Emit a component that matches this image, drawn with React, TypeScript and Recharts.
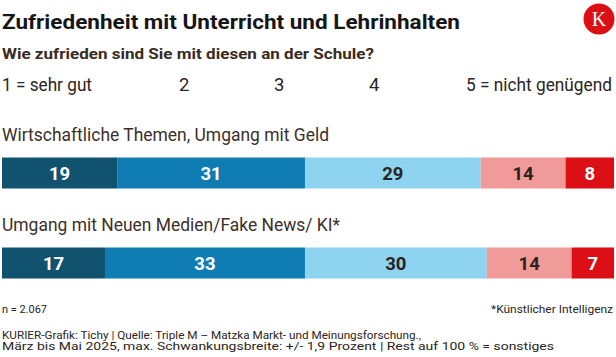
import React from 'react';
import { BarChart, Bar, XAxis, YAxis, LabelList } from 'recharts';

const categories = ['Wirtschaftliche Themen, Umgang mit Geld', 'Umgang mit Neuen Medien/Fake News/ KI*'];
const sehrGut = [19, 17];
const zwei = [31, 33];
const drei = [29, 30];
const vier = [14, 14];
const nichtGenuegend = [8, 7];
const legendLabels = ['1 = sehr gut', '2', '3', '4', '5 = nicht genügend'];

const seriesKeys = ['s1', 's2', 's3', 's4', 's5'];
const colors = ['#11536f', '#0f7db4', '#8ed4f0', '#f09a99', '#dc0e16'];
const labelColors = ['#ffffff', '#ffffff', '#2a2320', '#2a2320', '#ffffff'];

const data = categories.map((name, i) => ({
  name,
  s1: sehrGut[i],
  s2: zwei[i],
  s3: drei[i],
  s4: vier[i],
  s5: nichtGenuegend[i],
}));

const FONT = 'Roboto, "Noto Sans", sans-serif';
const catWidths = [327, 338];

const CategoryLabel = (props: any) => {
  const { y, index } = props;
  return (
    <text
      x={2}
      y={y - 17}
      fill="#3b3029"
      fontFamily={FONT}
      fontSize={18}
      textAnchor="start"
      textLength={catWidths[index]}
      lengthAdjust="spacingAndGlyphs"
    >
      {categories[index]}
    </text>
  );
};

const legendX = [2, 179, 274, 369, 466];
const legendW: (number | undefined)[] = [90, undefined, undefined, undefined, 146];

const T = (p: any) => (
  <text
    x={p.x}
    y={p.y}
    fontFamily={FONT}
    fontSize={p.size}
    fontWeight={p.bold ? 700 : 400}
    fill={p.color || '#2b2420'}
    textLength={p.w}
    lengthAdjust={p.w ? 'spacingAndGlyphs' : undefined}
  >
    {p.children}
  </text>
);

export default function App() {
  return (
    <div style={{ position: 'absolute', left: 0, top: 0, width: 616, height: 357, background: '#fff', overflow: 'hidden' }}>
      <div style={{ position: 'absolute', left: 0, top: 0 }}>
        <BarChart
          width={616}
          height={357}
          data={data}
          layout="vertical"
          margin={{ top: 127.5, right: 2, bottom: 49.5, left: 2 }}
        >
          <XAxis type="number" domain={[0, 101]} hide />
          <YAxis type="category" dataKey="name" hide />
          {seriesKeys.map((k, i) => (
            <Bar key={k} dataKey={k} stackId="a" fill={colors[i]} barSize={31} isAnimationActive={false}>
              <LabelList dataKey={k} position="center" fill={labelColors[i]} fontFamily={FONT} fontSize={18.5} fontWeight={700} />
              {i === 0 ? <LabelList dataKey="name" content={<CategoryLabel />} /> : null}
            </Bar>
          ))}
        </BarChart>
      </div>
      <svg style={{ position: 'absolute', left: 0, top: 0 }} width={616} height={357}>
        <T x={2} y={28.5} size={20} bold w={458} color="#161616">Zufriedenheit mit Unterricht und Lehrinhalten</T>
        <circle cx={599} cy={19} r={15.5} fill="#dc0e16" />
        <text x={599} y={26} textAnchor="middle" fill="#fff" fontFamily='"Liberation Serif", "DejaVu Serif", serif' fontSize={20}>K</text>
        <T x={2} y={58.5} size={15.5} bold w={372} color="#3a2b20">Wie zufrieden sind Sie mit diesen an der Schule?</T>
        {legendLabels.map((l, i) => (
          <T key={l} x={legendX[i]} y={91} size={18.5} w={legendW[i]}>{l}</T>
        ))}
        <T x={2} y={312.5} size={11} w={45}>n = 2.067</T>
        <T x={491} y={312.5} size={11} w={122}>*Künstlicher Intelligenz</T>
        <T x={2} y={338.5} size={10.5} w={419}>KURIER-Grafik: Tichy | Quelle: Triple M – Matzka Markt- und Meinungsforschung.,</T>
        <T x={2} y={349.5} size={10.5} w={552}>März bis Mai 2025, max. Schwankungsbreite: +/- 1,9 Prozent | Rest auf 100 % = sonstiges</T>
      </svg>
    </div>
  );
}
